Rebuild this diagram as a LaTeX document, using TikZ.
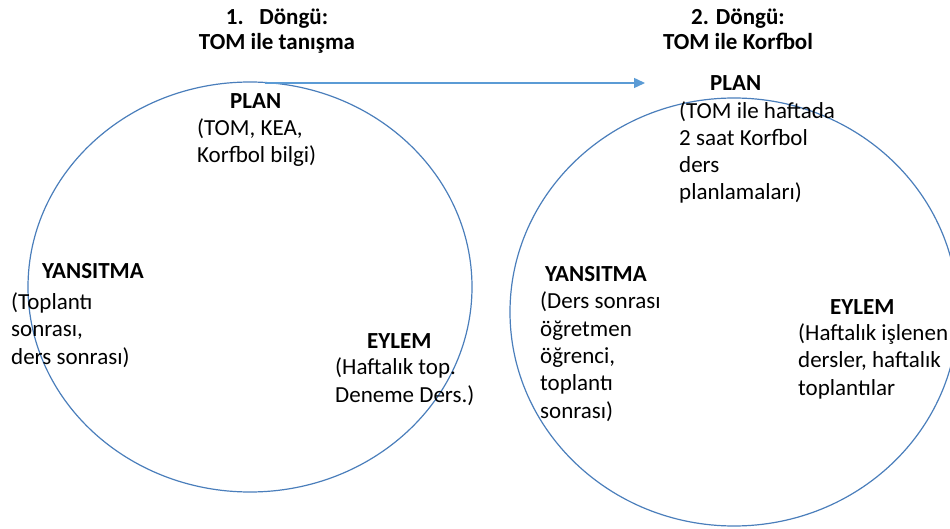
\documentclass[tikz,border=0pt]{standalone}
\usepackage{fontspec}
\setmainfont{Carlito}
\usetikzlibrary{arrows.meta}
\definecolor{ringblue}{HTML}{4A7EBB}
\definecolor{arrowblue}{HTML}{5B9BD5}

\begin{document}
\begin{tikzpicture}[x=1pt, y=-1pt,
    title/.style={font=\fontsize{23}{25}\selectfont\bfseries, align=center, anchor=base, inner sep=0pt},
    heading/.style={font=\fontsize{23}{27}\selectfont\bfseries, anchor=base west, inner sep=0pt},
    body/.style={font=\fontsize{23}{27.3}\selectfont, align=left, anchor=base west, inner sep=0pt},
    ring/.style={draw=ringblue, line width=1.2pt}]
    \useasboundingbox (0,0) rectangle (950,529);

    % the two cycles
    \draw [ring] (250,287) ellipse [x radius=222pt, y radius=205pt];
    \draw [ring] (734,312) ellipse [x radius=224pt, y radius=214pt];

    % base of a block of lines sits on its last line
    \node [title] (title1) at (277,50) {1.\ \ \ Döngü:\\TOM ile tanışma};
    \node [title] (title2) at (738,50) {2. Döngü:\\TOM ile Korfbol};

    % first cycle
    \node [heading] (plan1) at (230,109) {PLAN};
    \node [body] (plantext1) at (197,163) {(TOM, KEA,\\Korfbol bilgi)};
    \node [heading] (yansitma1) at (42,279) {YANSITMA};
    \node [body] (yansitmatext1) at (11,364) {(Toplantı\\sonrası,\\ders sonrası)};
    \node [heading] (eylem1) at (367,348) {EYLEM};
    \node [body] (eylemtext1) at (335,402) {(Haftalık top.\\Deneme Ders.)};

    % second cycle
    \node [heading] (plan2) at (710,91) {PLAN};
    \node [body] (plantext2) at (679,200) {(TOM ile haftada\\2 saat Korfbol\\ders\\planlamaları)};
    \node [heading] (yansitma2) at (545,281) {YANSITMA};
    \node [body] (yansitmatext2) at (540,418) {(Ders sonrası\\öğretmen\\öğrenci,\\toplantı\\sonrası)};
    \node [heading] (eylem2) at (830,314) {EYLEM};
    \node [body] (eylemtext2) at (798,395) {(Haftalık işlenen\\dersler, haftalık\\toplantılar};

    \coordinate (from1) at (265,83);
    \coordinate (to2) at (645,83);
    \draw [arrowblue, line width=1.4pt, -{Triangle[length=11pt,width=10pt]}] (from1) -- (to2);
\end{tikzpicture}
\end{document}
